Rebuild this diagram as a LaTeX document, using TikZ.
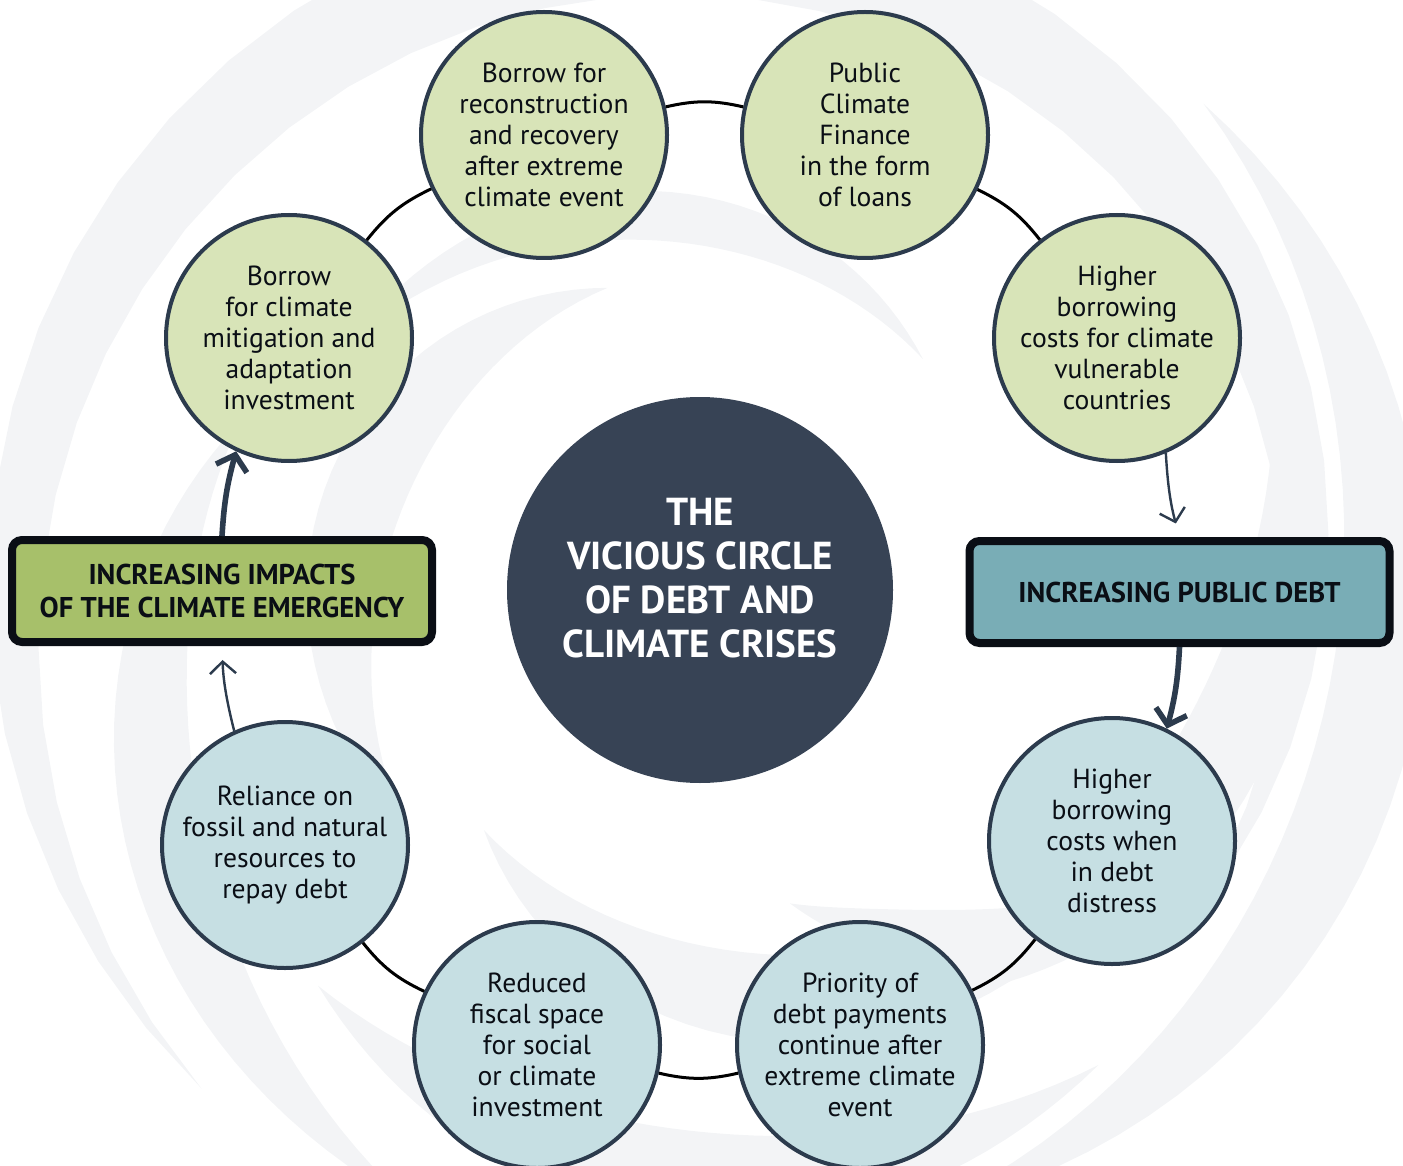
\documentclass[tikz,border=0pt]{standalone}
\usepackage{fontspec}
\setmainfont{PT Sans}
\usetikzlibrary{arrows.meta}

\definecolor{swirlgray}{HTML}{F3F4F6}
\definecolor{sage}{HTML}{D8E4B8}
\definecolor{mist}{HTML}{C6DFE3}
\definecolor{slate}{HTML}{2C3B4D}
\definecolor{hubnavy}{HTML}{374355}
\definecolor{olive}{HTML}{A7C06A}
\definecolor{teal}{HTML}{79ADB6}
\definecolor{inkblack}{HTML}{0A0E15}

% one crescent of the background swirl: start angle, end angle, start radius, end radius, half width
\newcommand{\swirl}[5]{%
  \fill[swirlgray] plot[domain=0:1,samples=40,variable=\t]
    ({700+(#3+(#4-#3)*\t+#5*sin(180*\t))*cos(#1+(#2-#1)*\t)},
     {590+(#3+(#4-#3)*\t+#5*sin(180*\t))*sin(#1+(#2-#1)*\t)})
    -- plot[domain=1:0,samples=40,variable=\t]
    ({700+(#3+(#4-#3)*\t-#5*sin(180*\t))*cos(#1+(#2-#1)*\t)},
     {590+(#3+(#4-#3)*\t-#5*sin(180*\t))*sin(#1+(#2-#1)*\t)}) -- cycle;}

\tikzset{
  stage/.style={circle, draw=slate, line width=2pt, minimum size=123pt, inner sep=0pt,
    align=center, text=inkblack, font=\fontsize{13.8}{15.5}\selectfont},
  greenstage/.style={stage, fill=sage},
  bluestage/.style={stage, fill=mist},
  banner/.style={draw=inkblack, line width=4pt, rounded corners=5pt, minimum width=210pt,
    minimum height=51pt, align=center, text=inkblack, font=\bfseries\fontsize{14.3}{16.5}\selectfont},
  ring/.style={line width=1.5pt, black},
  thinarrow/.style={draw=slate, line width=1.2pt, -{Straight Barb[length=6pt,width=13pt,line width=1.2pt]}},
  thickarrow/.style={draw=slate, line width=2.8pt, -{Straight Barb[length=7pt,width=16pt,line width=2.8pt]}}
}

\begin{document}
\begin{tikzpicture}[x=0.5pt,y=-0.5pt]
\useasboundingbox (0,0) rectangle (1403,1166);

% background swirl
\begin{scope}
\clip (0,0) rectangle (1403,1166);
\swirl{135}{395}{705}{590}{50}
\swirl{340}{420}{610}{470}{45}
\swirl{395}{434}{520}{326}{30}
\swirl{316}{430}{700}{660}{45}
\swirl{140}{253}{380}{316}{40}
\swirl{20}{132}{520}{323}{45}
\swirl{50}{134}{620}{550}{45}
\swirl{215}{314}{430}{321}{25}
\swirl{115}{200}{680}{490}{40}
\end{scope}

% centre
\node[circle, fill=hubnavy, minimum size=193pt, inner sep=0pt] (hub) at (700,590) {};
\node[text=white, align=center, font=\bfseries\fontsize{19.5}{22}\selectfont] (hubtitle) at (700,578)
  {THE\\VICIOUS CIRCLE\\OF DEBT AND\\CLIMATE CRISES};

% climate side
\node[greenstage] (mitigate) at (289,338) {Borrow\\for climate\\mitigation and\\adaptation\\investment};
\node[greenstage] (rebuild) at (544,135) {Borrow for\\reconstruction\\and recovery\\after extreme\\climate event};
\node[greenstage] (finance) at (865,135) {Public\\Climate\\Finance\\in the form\\of loans};
\node[greenstage] (costly) at (1117,338) {Higher\\borrowing\\costs for climate\\vulnerable\\countries};

% debt side
\node[bluestage] (distress) at (1112,841) {Higher\\borrowing\\costs when\\in debt\\distress};
\node[bluestage] (priority) at (860,1045) {Priority of\\debt payments\\continue after\\extreme climate\\event};
\node[bluestage] (fiscal) at (537,1045) {Reduced\\fiscal space\\for social\\or climate\\investment};
\node[bluestage] (fossil) at (285,845) {Reliance on\\fossil and natural\\resources to\\repay debt};

% banners
\node[banner, fill=olive] (impacts) at (222,591) {INCREASING IMPACTS\\OF THE CLIMATE EMERGENCY};
\node[banner, fill=teal] (debt) at (1179.5,592) {INCREASING PUBLIC DEBT};

% ring
\draw[ring] (mitigate) to[bend left=13] (rebuild);
\draw[ring] (rebuild) to[bend left=13] (finance);
\draw[ring] (finance) to[bend left=13] (costly);
\draw[ring] (distress) to[bend left=13] (priority);
\draw[ring] (priority) to[bend left=13] (fiscal);
\draw[ring] (fiscal) to[bend left=13] (fossil);

% arrows
\draw[thinarrow, shorten >=7pt] (costly.-67) to[bend right=6] (debt.north);
\draw[thickarrow] (debt.south) to[bend left=6] (distress.64);
\draw[thinarrow, shorten >=7pt] (fossil.114) to[bend left=6] (impacts.south);
\draw[thickarrow] (impacts.north) to[bend left=6] (mitigate.-115);
\end{tikzpicture}
\end{document}
